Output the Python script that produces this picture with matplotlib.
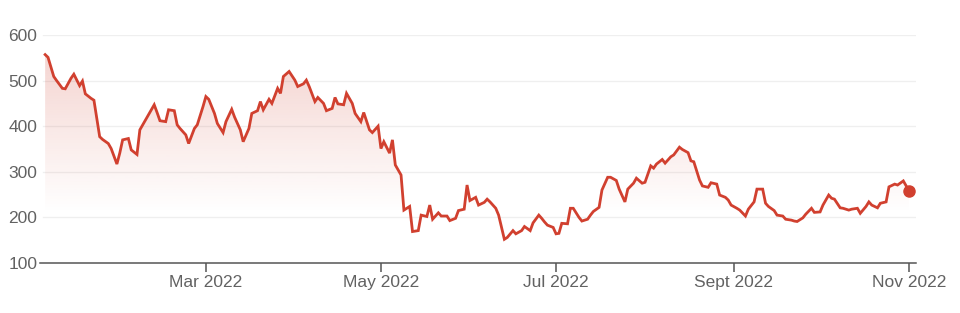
import matplotlib
matplotlib.use('Agg')
import matplotlib.pyplot as plt
import matplotlib.dates as mdates
import numpy as np
import pandas as pd
from datetime import datetime

# daily closes (2022)
dates = ['01-04', '01-05', '01-07', '01-08', '01-10', '01-11', '01-13', '01-14', '01-16', '01-17',
         '01-18', '01-20', '01-21', '01-23', '01-24', '01-26', '01-27', '01-29', '01-30', '01-31',
         '02-02', '02-03', '02-05', '02-06', '02-08', '02-09', '02-11', '02-12', '02-13', '02-15',
         '02-16', '02-18', '02-19', '02-20', '02-22', '02-23', '02-25', '02-26', '02-28', '03-01',
         '03-02', '03-04', '03-05', '03-07', '03-08', '03-10', '03-11', '03-13', '03-14', '03-16',
         '03-17', '03-19', '03-20', '03-21', '03-23', '03-24', '03-26', '03-27', '03-28', '03-30',
         '04-01', '04-02', '04-04', '04-05', '04-06', '04-08', '04-09', '04-11', '04-12', '04-14',
         '04-15', '04-16', '04-18', '04-19', '04-21', '04-22', '04-24', '04-25', '04-27', '04-28',
         '04-30', '05-01', '05-02', '05-04', '05-05', '05-06', '05-08', '05-09', '05-11', '05-12',
         '05-14', '05-15', '05-17', '05-18', '05-19', '05-21', '05-22', '05-24', '05-25', '05-27',
         '05-28', '05-30', '05-31', '06-01', '06-03', '06-04', '06-06', '06-07', '06-08', '06-10',
         '06-11', '06-13', '06-14', '06-16', '06-17', '06-19', '06-20', '06-22', '06-23', '06-25',
         '06-26', '06-27', '06-28', '06-30', '07-01', '07-02', '07-03', '07-05', '07-06', '07-07',
         '07-09', '07-10', '07-12', '07-13', '07-14', '07-16', '07-17', '07-19', '07-20', '07-22',
         '07-23', '07-25', '07-26', '07-28', '07-29', '07-31', '08-01', '08-03', '08-04', '08-05',
         '08-07', '08-08', '08-10', '08-11', '08-13', '08-14', '08-16', '08-17', '08-18', '08-20',
         '08-21', '08-23', '08-24', '08-26', '08-27', '08-29', '08-30', '08-31', '09-02', '09-03',
         '09-05', '09-06', '09-08', '09-09', '09-11', '09-12', '09-13', '09-15', '09-16', '09-18',
         '09-19', '09-21', '09-22', '09-23', '09-25', '09-26', '09-28', '09-29', '10-01', '10-02',
         '10-04', '10-05', '10-06', '10-08', '10-09', '10-11', '10-12', '10-14', '10-15', '10-17',
         '10-18', '10-19', '10-21', '10-22', '10-24', '10-25', '10-27', '10-28', '10-30', '10-31',
         '11-01']
prices = [557, 551, 509, 500, 483, 482, 505, 514, 489, 499,
          471, 461, 457, 377, 371, 362, 351, 317, 341, 370,
          373, 348, 338, 392, 414, 425, 447, 430, 412, 410,
          436, 434, 403, 395, 381, 362, 395, 403, 443, 465,
          459, 428, 406, 386, 410, 437, 420, 392, 366, 395,
          428, 434, 454, 436, 459, 450, 483, 472, 509, 520,
          501, 487, 493, 501, 487, 454, 463, 450, 434, 439,
          463, 449, 447, 472, 450, 428, 410, 430, 392, 386,
          400, 351, 366, 341, 370, 315, 293, 216, 224, 169,
          171, 205, 202, 227, 196, 210, 203, 203, 193, 198,
          215, 218, 271, 237, 244, 227, 233, 240, 234, 220,
          205, 152, 156, 171, 164, 171, 180, 171, 188, 205,
          198, 190, 183, 178, 164, 165, 187, 186, 220, 220,
          200, 192, 196, 205, 213, 222, 260, 288, 288, 281,
          262, 234, 262, 275, 286, 275, 277, 313, 308, 317,
          327, 319, 333, 337, 354, 349, 342, 324, 322, 282,
          269, 266, 276, 273, 249, 244, 238, 227, 220, 216,
          203, 218, 234, 262, 262, 231, 224, 215, 205, 203,
          196, 194, 192, 191, 199, 207, 220, 211, 212, 227,
          249, 242, 240, 221, 220, 216, 218, 220, 209, 224,
          234, 227, 221, 231, 234, 267, 273, 271, 280, 269,
          258]

tick_dates = ['2022-03-01', '2022-05-01', '2022-07-01', '2022-09-01', '2022-11-01']
tick_labels = ['Mar 2022', 'May 2022', 'Jul 2022', 'Sept 2022', 'Nov 2022']
y_ticks = [100, 200, 300, 400, 500, 600]

line_color = '#d1402f'
text_color = '#626262'

x = pd.to_datetime(['2022-' + d for d in dates])
xn = mdates.date2num(x)
y = np.array(prices)

plt.rcParams['font.family'] = ['Liberation Sans', 'DejaVu Sans']

fig = plt.figure(figsize=(9.6, 3.13), dpi=100)
ax = fig.add_axes([40 / 960, 50 / 313, 876 / 960, 228 / 313])

x0 = mdates.date2num(datetime(2022, 1, 2, 5))
x1 = mdates.date2num(datetime(2022, 11, 3, 10))
ax.set_xlim(x0, x1)
ax.set_ylim(100, 600)

# gradient fill under the line
grad = np.zeros((256, 1, 4))
rgb = matplotlib.colors.to_rgb(line_color)
grad[:, :, :3] = rgb
alphas = np.clip((np.linspace(600, 100, 256) - 210) / (600 - 210), 0, 1) * 0.25
grad[:, 0, 3] = alphas
img = ax.imshow(grad, extent=[x0, x1, 100, 600], aspect='auto', origin='upper', zorder=1)
poly = ax.fill_between(xn, y, 100, color='none', lw=0)
clip = matplotlib.patches.PathPatch(poly.get_paths()[0], transform=ax.transData, facecolor='none', edgecolor='none')
ax.add_patch(clip)
img.set_clip_path(clip)

ax.plot(xn, y, color=line_color, lw=2.0, solid_joinstyle='miter', zorder=3)
ax.plot(xn[-1], y[-1], 'o', color=line_color, markersize=8, zorder=4)

# grid
for v in y_ticks[1:]:
    ax.axhline(v, xmin=3 / 876, color='#efefef', lw=0.9, zorder=0)

for s in ['top', 'right', 'left']:
    ax.spines[s].set_visible(False)
ax.spines['bottom'].set_color('#555555')
ax.spines['bottom'].set_linewidth(1.1)

ax.set_yticks(y_ticks)
ax.set_yticklabels([str(v) for v in y_ticks])
ax.tick_params(axis='y', length=0, pad=2, labelsize=12.5, labelcolor=text_color)

ax.set_xticks(mdates.date2num(pd.to_datetime(tick_dates)))
ax.set_xticklabels(tick_labels)
ax.tick_params(axis='x', length=6.5, width=1.1, color='#555555', pad=2, labelsize=12.5, labelcolor=text_color)

fig.savefig('out.png', dpi=100)
